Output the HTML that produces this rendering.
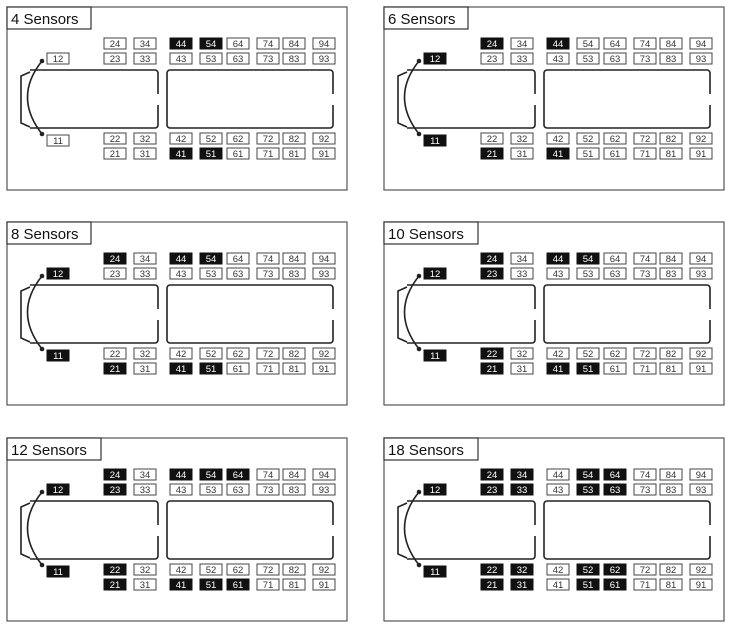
<!DOCTYPE html>
<html><head><meta charset="utf-8"><style>
html,body{margin:0;padding:0;background:#fff;width:730px;height:627px;overflow:hidden}
svg{display:block}
text{font-family:"Liberation Sans",sans-serif}
.f{fill:none;stroke:#555;stroke-width:1.2}
.t{fill:none;stroke:#222;stroke-width:1.6}
.w rect{fill:#fff;stroke:#444;stroke-width:1}
.w text{fill:#333}
.d rect{fill:#111;stroke:#111;stroke-width:1}
.d text{fill:#fff}
.b text{font-size:9.5px;text-anchor:middle}
</style></head><body>
<svg width="730" height="627" viewBox="0 0 730 627">
<defs>
<g id="base">
<rect class="f" x="0" y="0" width="340" height="183"/>
<path class="t" d="M23,63 H148 a3,3 0 0 1 3,3 V87 M151,98 V118 a3,3 0 0 1 -3,3 H23"/>
<path class="t" d="M163,63 H323 a3,3 0 0 1 3,3 V87 M326,98 V118 a3,3 0 0 1 -3,3 H163 a3,3 0 0 1 -3,-3 V66 a3,3 0 0 1 3,-3"/>
<path class="t" d="M23,65 L14,69 V116 L23,120"/>
<path class="t" d="M35,54 Q6,90 35,127" stroke-width="2.6"/>
<circle cx="35" cy="54" r="2.3" fill="#222"/><circle cx="35" cy="127" r="2.3" fill="#222"/>
</g>
</defs>
<!-- Panel 1 -->
<g transform="translate(7,7)" class="b">
<use href="#base"/>
<rect x="0" y="0" width="84" height="22" fill="#fff" stroke="#333" stroke-width="1.2"/><text x="4" y="17" style="font-size:15px;text-anchor:start" fill="#111">4 Sensors</text>
<g class="w"><rect x="40" y="46" width="22" height="11"/><text x="51" y="55">12</text></g>
<g class="w"><rect x="40" y="128" width="22" height="11"/><text x="51" y="137">11</text></g>
<g class="w"><rect x="97" y="31" width="22" height="11"/><text x="108" y="40">24</text></g>
<g class="w"><rect x="127" y="31" width="22" height="11"/><text x="138" y="40">34</text></g>
<g class="d"><rect x="163" y="31" width="22" height="11"/><text x="174" y="40">44</text></g>
<g class="d"><rect x="193" y="31" width="22" height="11"/><text x="204" y="40">54</text></g>
<g class="w"><rect x="220" y="31" width="22" height="11"/><text x="231" y="40">64</text></g>
<g class="w"><rect x="250" y="31" width="22" height="11"/><text x="261" y="40">74</text></g>
<g class="w"><rect x="276" y="31" width="22" height="11"/><text x="287" y="40">84</text></g>
<g class="w"><rect x="306" y="31" width="22" height="11"/><text x="317" y="40">94</text></g>
<g class="w"><rect x="97" y="46" width="22" height="11"/><text x="108" y="55">23</text></g>
<g class="w"><rect x="127" y="46" width="22" height="11"/><text x="138" y="55">33</text></g>
<g class="w"><rect x="163" y="46" width="22" height="11"/><text x="174" y="55">43</text></g>
<g class="w"><rect x="193" y="46" width="22" height="11"/><text x="204" y="55">53</text></g>
<g class="w"><rect x="220" y="46" width="22" height="11"/><text x="231" y="55">63</text></g>
<g class="w"><rect x="250" y="46" width="22" height="11"/><text x="261" y="55">73</text></g>
<g class="w"><rect x="276" y="46" width="22" height="11"/><text x="287" y="55">83</text></g>
<g class="w"><rect x="306" y="46" width="22" height="11"/><text x="317" y="55">93</text></g>
<g class="w"><rect x="97" y="126" width="22" height="11"/><text x="108" y="135">22</text></g>
<g class="w"><rect x="127" y="126" width="22" height="11"/><text x="138" y="135">32</text></g>
<g class="w"><rect x="163" y="126" width="22" height="11"/><text x="174" y="135">42</text></g>
<g class="w"><rect x="193" y="126" width="22" height="11"/><text x="204" y="135">52</text></g>
<g class="w"><rect x="220" y="126" width="22" height="11"/><text x="231" y="135">62</text></g>
<g class="w"><rect x="250" y="126" width="22" height="11"/><text x="261" y="135">72</text></g>
<g class="w"><rect x="276" y="126" width="22" height="11"/><text x="287" y="135">82</text></g>
<g class="w"><rect x="306" y="126" width="22" height="11"/><text x="317" y="135">92</text></g>
<g class="w"><rect x="97" y="141" width="22" height="11"/><text x="108" y="150">21</text></g>
<g class="w"><rect x="127" y="141" width="22" height="11"/><text x="138" y="150">31</text></g>
<g class="d"><rect x="163" y="141" width="22" height="11"/><text x="174" y="150">41</text></g>
<g class="d"><rect x="193" y="141" width="22" height="11"/><text x="204" y="150">51</text></g>
<g class="w"><rect x="220" y="141" width="22" height="11"/><text x="231" y="150">61</text></g>
<g class="w"><rect x="250" y="141" width="22" height="11"/><text x="261" y="150">71</text></g>
<g class="w"><rect x="276" y="141" width="22" height="11"/><text x="287" y="150">81</text></g>
<g class="w"><rect x="306" y="141" width="22" height="11"/><text x="317" y="150">91</text></g>
</g>
<!-- Panel 2 -->
<g transform="translate(384,7)" class="b">
<use href="#base"/>
<rect x="0" y="0" width="84" height="22" fill="#fff" stroke="#333" stroke-width="1.2"/><text x="4" y="17" style="font-size:15px;text-anchor:start" fill="#111">6 Sensors</text>
<g class="d"><rect x="40" y="46" width="22" height="11"/><text x="51" y="55">12</text></g>
<g class="d"><rect x="40" y="128" width="22" height="11"/><text x="51" y="137">11</text></g>
<g class="d"><rect x="97" y="31" width="22" height="11"/><text x="108" y="40">24</text></g>
<g class="w"><rect x="127" y="31" width="22" height="11"/><text x="138" y="40">34</text></g>
<g class="d"><rect x="163" y="31" width="22" height="11"/><text x="174" y="40">44</text></g>
<g class="w"><rect x="193" y="31" width="22" height="11"/><text x="204" y="40">54</text></g>
<g class="w"><rect x="220" y="31" width="22" height="11"/><text x="231" y="40">64</text></g>
<g class="w"><rect x="250" y="31" width="22" height="11"/><text x="261" y="40">74</text></g>
<g class="w"><rect x="276" y="31" width="22" height="11"/><text x="287" y="40">84</text></g>
<g class="w"><rect x="306" y="31" width="22" height="11"/><text x="317" y="40">94</text></g>
<g class="w"><rect x="97" y="46" width="22" height="11"/><text x="108" y="55">23</text></g>
<g class="w"><rect x="127" y="46" width="22" height="11"/><text x="138" y="55">33</text></g>
<g class="w"><rect x="163" y="46" width="22" height="11"/><text x="174" y="55">43</text></g>
<g class="w"><rect x="193" y="46" width="22" height="11"/><text x="204" y="55">53</text></g>
<g class="w"><rect x="220" y="46" width="22" height="11"/><text x="231" y="55">63</text></g>
<g class="w"><rect x="250" y="46" width="22" height="11"/><text x="261" y="55">73</text></g>
<g class="w"><rect x="276" y="46" width="22" height="11"/><text x="287" y="55">83</text></g>
<g class="w"><rect x="306" y="46" width="22" height="11"/><text x="317" y="55">93</text></g>
<g class="w"><rect x="97" y="126" width="22" height="11"/><text x="108" y="135">22</text></g>
<g class="w"><rect x="127" y="126" width="22" height="11"/><text x="138" y="135">32</text></g>
<g class="w"><rect x="163" y="126" width="22" height="11"/><text x="174" y="135">42</text></g>
<g class="w"><rect x="193" y="126" width="22" height="11"/><text x="204" y="135">52</text></g>
<g class="w"><rect x="220" y="126" width="22" height="11"/><text x="231" y="135">62</text></g>
<g class="w"><rect x="250" y="126" width="22" height="11"/><text x="261" y="135">72</text></g>
<g class="w"><rect x="276" y="126" width="22" height="11"/><text x="287" y="135">82</text></g>
<g class="w"><rect x="306" y="126" width="22" height="11"/><text x="317" y="135">92</text></g>
<g class="d"><rect x="97" y="141" width="22" height="11"/><text x="108" y="150">21</text></g>
<g class="w"><rect x="127" y="141" width="22" height="11"/><text x="138" y="150">31</text></g>
<g class="d"><rect x="163" y="141" width="22" height="11"/><text x="174" y="150">41</text></g>
<g class="w"><rect x="193" y="141" width="22" height="11"/><text x="204" y="150">51</text></g>
<g class="w"><rect x="220" y="141" width="22" height="11"/><text x="231" y="150">61</text></g>
<g class="w"><rect x="250" y="141" width="22" height="11"/><text x="261" y="150">71</text></g>
<g class="w"><rect x="276" y="141" width="22" height="11"/><text x="287" y="150">81</text></g>
<g class="w"><rect x="306" y="141" width="22" height="11"/><text x="317" y="150">91</text></g>
</g>
<!-- Panel 3 -->
<g transform="translate(7,222)" class="b">
<use href="#base"/>
<rect x="0" y="0" width="84" height="22" fill="#fff" stroke="#333" stroke-width="1.2"/><text x="4" y="17" style="font-size:15px;text-anchor:start" fill="#111">8 Sensors</text>
<g class="d"><rect x="40" y="46" width="22" height="11"/><text x="51" y="55">12</text></g>
<g class="d"><rect x="40" y="128" width="22" height="11"/><text x="51" y="137">11</text></g>
<g class="d"><rect x="97" y="31" width="22" height="11"/><text x="108" y="40">24</text></g>
<g class="w"><rect x="127" y="31" width="22" height="11"/><text x="138" y="40">34</text></g>
<g class="d"><rect x="163" y="31" width="22" height="11"/><text x="174" y="40">44</text></g>
<g class="d"><rect x="193" y="31" width="22" height="11"/><text x="204" y="40">54</text></g>
<g class="w"><rect x="220" y="31" width="22" height="11"/><text x="231" y="40">64</text></g>
<g class="w"><rect x="250" y="31" width="22" height="11"/><text x="261" y="40">74</text></g>
<g class="w"><rect x="276" y="31" width="22" height="11"/><text x="287" y="40">84</text></g>
<g class="w"><rect x="306" y="31" width="22" height="11"/><text x="317" y="40">94</text></g>
<g class="w"><rect x="97" y="46" width="22" height="11"/><text x="108" y="55">23</text></g>
<g class="w"><rect x="127" y="46" width="22" height="11"/><text x="138" y="55">33</text></g>
<g class="w"><rect x="163" y="46" width="22" height="11"/><text x="174" y="55">43</text></g>
<g class="w"><rect x="193" y="46" width="22" height="11"/><text x="204" y="55">53</text></g>
<g class="w"><rect x="220" y="46" width="22" height="11"/><text x="231" y="55">63</text></g>
<g class="w"><rect x="250" y="46" width="22" height="11"/><text x="261" y="55">73</text></g>
<g class="w"><rect x="276" y="46" width="22" height="11"/><text x="287" y="55">83</text></g>
<g class="w"><rect x="306" y="46" width="22" height="11"/><text x="317" y="55">93</text></g>
<g class="w"><rect x="97" y="126" width="22" height="11"/><text x="108" y="135">22</text></g>
<g class="w"><rect x="127" y="126" width="22" height="11"/><text x="138" y="135">32</text></g>
<g class="w"><rect x="163" y="126" width="22" height="11"/><text x="174" y="135">42</text></g>
<g class="w"><rect x="193" y="126" width="22" height="11"/><text x="204" y="135">52</text></g>
<g class="w"><rect x="220" y="126" width="22" height="11"/><text x="231" y="135">62</text></g>
<g class="w"><rect x="250" y="126" width="22" height="11"/><text x="261" y="135">72</text></g>
<g class="w"><rect x="276" y="126" width="22" height="11"/><text x="287" y="135">82</text></g>
<g class="w"><rect x="306" y="126" width="22" height="11"/><text x="317" y="135">92</text></g>
<g class="d"><rect x="97" y="141" width="22" height="11"/><text x="108" y="150">21</text></g>
<g class="w"><rect x="127" y="141" width="22" height="11"/><text x="138" y="150">31</text></g>
<g class="d"><rect x="163" y="141" width="22" height="11"/><text x="174" y="150">41</text></g>
<g class="d"><rect x="193" y="141" width="22" height="11"/><text x="204" y="150">51</text></g>
<g class="w"><rect x="220" y="141" width="22" height="11"/><text x="231" y="150">61</text></g>
<g class="w"><rect x="250" y="141" width="22" height="11"/><text x="261" y="150">71</text></g>
<g class="w"><rect x="276" y="141" width="22" height="11"/><text x="287" y="150">81</text></g>
<g class="w"><rect x="306" y="141" width="22" height="11"/><text x="317" y="150">91</text></g>
</g>
<!-- Panel 4 -->
<g transform="translate(384,222)" class="b">
<use href="#base"/>
<rect x="0" y="0" width="94" height="22" fill="#fff" stroke="#333" stroke-width="1.2"/><text x="4" y="17" style="font-size:15px;text-anchor:start" fill="#111">10 Sensors</text>
<g class="d"><rect x="40" y="46" width="22" height="11"/><text x="51" y="55">12</text></g>
<g class="d"><rect x="40" y="128" width="22" height="11"/><text x="51" y="137">11</text></g>
<g class="d"><rect x="97" y="31" width="22" height="11"/><text x="108" y="40">24</text></g>
<g class="w"><rect x="127" y="31" width="22" height="11"/><text x="138" y="40">34</text></g>
<g class="d"><rect x="163" y="31" width="22" height="11"/><text x="174" y="40">44</text></g>
<g class="d"><rect x="193" y="31" width="22" height="11"/><text x="204" y="40">54</text></g>
<g class="w"><rect x="220" y="31" width="22" height="11"/><text x="231" y="40">64</text></g>
<g class="w"><rect x="250" y="31" width="22" height="11"/><text x="261" y="40">74</text></g>
<g class="w"><rect x="276" y="31" width="22" height="11"/><text x="287" y="40">84</text></g>
<g class="w"><rect x="306" y="31" width="22" height="11"/><text x="317" y="40">94</text></g>
<g class="d"><rect x="97" y="46" width="22" height="11"/><text x="108" y="55">23</text></g>
<g class="w"><rect x="127" y="46" width="22" height="11"/><text x="138" y="55">33</text></g>
<g class="w"><rect x="163" y="46" width="22" height="11"/><text x="174" y="55">43</text></g>
<g class="w"><rect x="193" y="46" width="22" height="11"/><text x="204" y="55">53</text></g>
<g class="w"><rect x="220" y="46" width="22" height="11"/><text x="231" y="55">63</text></g>
<g class="w"><rect x="250" y="46" width="22" height="11"/><text x="261" y="55">73</text></g>
<g class="w"><rect x="276" y="46" width="22" height="11"/><text x="287" y="55">83</text></g>
<g class="w"><rect x="306" y="46" width="22" height="11"/><text x="317" y="55">93</text></g>
<g class="d"><rect x="97" y="126" width="22" height="11"/><text x="108" y="135">22</text></g>
<g class="w"><rect x="127" y="126" width="22" height="11"/><text x="138" y="135">32</text></g>
<g class="w"><rect x="163" y="126" width="22" height="11"/><text x="174" y="135">42</text></g>
<g class="w"><rect x="193" y="126" width="22" height="11"/><text x="204" y="135">52</text></g>
<g class="w"><rect x="220" y="126" width="22" height="11"/><text x="231" y="135">62</text></g>
<g class="w"><rect x="250" y="126" width="22" height="11"/><text x="261" y="135">72</text></g>
<g class="w"><rect x="276" y="126" width="22" height="11"/><text x="287" y="135">82</text></g>
<g class="w"><rect x="306" y="126" width="22" height="11"/><text x="317" y="135">92</text></g>
<g class="d"><rect x="97" y="141" width="22" height="11"/><text x="108" y="150">21</text></g>
<g class="w"><rect x="127" y="141" width="22" height="11"/><text x="138" y="150">31</text></g>
<g class="d"><rect x="163" y="141" width="22" height="11"/><text x="174" y="150">41</text></g>
<g class="d"><rect x="193" y="141" width="22" height="11"/><text x="204" y="150">51</text></g>
<g class="w"><rect x="220" y="141" width="22" height="11"/><text x="231" y="150">61</text></g>
<g class="w"><rect x="250" y="141" width="22" height="11"/><text x="261" y="150">71</text></g>
<g class="w"><rect x="276" y="141" width="22" height="11"/><text x="287" y="150">81</text></g>
<g class="w"><rect x="306" y="141" width="22" height="11"/><text x="317" y="150">91</text></g>
</g>
<!-- Panel 5 -->
<g transform="translate(7,438)" class="b">
<use href="#base"/>
<rect x="0" y="0" width="94" height="22" fill="#fff" stroke="#333" stroke-width="1.2"/><text x="4" y="17" style="font-size:15px;text-anchor:start" fill="#111">12 Sensors</text>
<g class="d"><rect x="40" y="46" width="22" height="11"/><text x="51" y="55">12</text></g>
<g class="d"><rect x="40" y="128" width="22" height="11"/><text x="51" y="137">11</text></g>
<g class="d"><rect x="97" y="31" width="22" height="11"/><text x="108" y="40">24</text></g>
<g class="w"><rect x="127" y="31" width="22" height="11"/><text x="138" y="40">34</text></g>
<g class="d"><rect x="163" y="31" width="22" height="11"/><text x="174" y="40">44</text></g>
<g class="d"><rect x="193" y="31" width="22" height="11"/><text x="204" y="40">54</text></g>
<g class="d"><rect x="220" y="31" width="22" height="11"/><text x="231" y="40">64</text></g>
<g class="w"><rect x="250" y="31" width="22" height="11"/><text x="261" y="40">74</text></g>
<g class="w"><rect x="276" y="31" width="22" height="11"/><text x="287" y="40">84</text></g>
<g class="w"><rect x="306" y="31" width="22" height="11"/><text x="317" y="40">94</text></g>
<g class="d"><rect x="97" y="46" width="22" height="11"/><text x="108" y="55">23</text></g>
<g class="w"><rect x="127" y="46" width="22" height="11"/><text x="138" y="55">33</text></g>
<g class="w"><rect x="163" y="46" width="22" height="11"/><text x="174" y="55">43</text></g>
<g class="w"><rect x="193" y="46" width="22" height="11"/><text x="204" y="55">53</text></g>
<g class="w"><rect x="220" y="46" width="22" height="11"/><text x="231" y="55">63</text></g>
<g class="w"><rect x="250" y="46" width="22" height="11"/><text x="261" y="55">73</text></g>
<g class="w"><rect x="276" y="46" width="22" height="11"/><text x="287" y="55">83</text></g>
<g class="w"><rect x="306" y="46" width="22" height="11"/><text x="317" y="55">93</text></g>
<g class="d"><rect x="97" y="126" width="22" height="11"/><text x="108" y="135">22</text></g>
<g class="w"><rect x="127" y="126" width="22" height="11"/><text x="138" y="135">32</text></g>
<g class="w"><rect x="163" y="126" width="22" height="11"/><text x="174" y="135">42</text></g>
<g class="w"><rect x="193" y="126" width="22" height="11"/><text x="204" y="135">52</text></g>
<g class="w"><rect x="220" y="126" width="22" height="11"/><text x="231" y="135">62</text></g>
<g class="w"><rect x="250" y="126" width="22" height="11"/><text x="261" y="135">72</text></g>
<g class="w"><rect x="276" y="126" width="22" height="11"/><text x="287" y="135">82</text></g>
<g class="w"><rect x="306" y="126" width="22" height="11"/><text x="317" y="135">92</text></g>
<g class="d"><rect x="97" y="141" width="22" height="11"/><text x="108" y="150">21</text></g>
<g class="w"><rect x="127" y="141" width="22" height="11"/><text x="138" y="150">31</text></g>
<g class="d"><rect x="163" y="141" width="22" height="11"/><text x="174" y="150">41</text></g>
<g class="d"><rect x="193" y="141" width="22" height="11"/><text x="204" y="150">51</text></g>
<g class="d"><rect x="220" y="141" width="22" height="11"/><text x="231" y="150">61</text></g>
<g class="w"><rect x="250" y="141" width="22" height="11"/><text x="261" y="150">71</text></g>
<g class="w"><rect x="276" y="141" width="22" height="11"/><text x="287" y="150">81</text></g>
<g class="w"><rect x="306" y="141" width="22" height="11"/><text x="317" y="150">91</text></g>
</g>
<!-- Panel 6 -->
<g transform="translate(384,438)" class="b">
<use href="#base"/>
<rect x="0" y="0" width="94" height="22" fill="#fff" stroke="#333" stroke-width="1.2"/><text x="4" y="17" style="font-size:15px;text-anchor:start" fill="#111">18 Sensors</text>
<g class="d"><rect x="40" y="46" width="22" height="11"/><text x="51" y="55">12</text></g>
<g class="d"><rect x="40" y="128" width="22" height="11"/><text x="51" y="137">11</text></g>
<g class="d"><rect x="97" y="31" width="22" height="11"/><text x="108" y="40">24</text></g>
<g class="d"><rect x="127" y="31" width="22" height="11"/><text x="138" y="40">34</text></g>
<g class="w"><rect x="163" y="31" width="22" height="11"/><text x="174" y="40">44</text></g>
<g class="d"><rect x="193" y="31" width="22" height="11"/><text x="204" y="40">54</text></g>
<g class="d"><rect x="220" y="31" width="22" height="11"/><text x="231" y="40">64</text></g>
<g class="w"><rect x="250" y="31" width="22" height="11"/><text x="261" y="40">74</text></g>
<g class="w"><rect x="276" y="31" width="22" height="11"/><text x="287" y="40">84</text></g>
<g class="w"><rect x="306" y="31" width="22" height="11"/><text x="317" y="40">94</text></g>
<g class="d"><rect x="97" y="46" width="22" height="11"/><text x="108" y="55">23</text></g>
<g class="d"><rect x="127" y="46" width="22" height="11"/><text x="138" y="55">33</text></g>
<g class="w"><rect x="163" y="46" width="22" height="11"/><text x="174" y="55">43</text></g>
<g class="d"><rect x="193" y="46" width="22" height="11"/><text x="204" y="55">53</text></g>
<g class="d"><rect x="220" y="46" width="22" height="11"/><text x="231" y="55">63</text></g>
<g class="w"><rect x="250" y="46" width="22" height="11"/><text x="261" y="55">73</text></g>
<g class="w"><rect x="276" y="46" width="22" height="11"/><text x="287" y="55">83</text></g>
<g class="w"><rect x="306" y="46" width="22" height="11"/><text x="317" y="55">93</text></g>
<g class="d"><rect x="97" y="126" width="22" height="11"/><text x="108" y="135">22</text></g>
<g class="d"><rect x="127" y="126" width="22" height="11"/><text x="138" y="135">32</text></g>
<g class="w"><rect x="163" y="126" width="22" height="11"/><text x="174" y="135">42</text></g>
<g class="d"><rect x="193" y="126" width="22" height="11"/><text x="204" y="135">52</text></g>
<g class="d"><rect x="220" y="126" width="22" height="11"/><text x="231" y="135">62</text></g>
<g class="w"><rect x="250" y="126" width="22" height="11"/><text x="261" y="135">72</text></g>
<g class="w"><rect x="276" y="126" width="22" height="11"/><text x="287" y="135">82</text></g>
<g class="w"><rect x="306" y="126" width="22" height="11"/><text x="317" y="135">92</text></g>
<g class="d"><rect x="97" y="141" width="22" height="11"/><text x="108" y="150">21</text></g>
<g class="d"><rect x="127" y="141" width="22" height="11"/><text x="138" y="150">31</text></g>
<g class="w"><rect x="163" y="141" width="22" height="11"/><text x="174" y="150">41</text></g>
<g class="d"><rect x="193" y="141" width="22" height="11"/><text x="204" y="150">51</text></g>
<g class="d"><rect x="220" y="141" width="22" height="11"/><text x="231" y="150">61</text></g>
<g class="w"><rect x="250" y="141" width="22" height="11"/><text x="261" y="150">71</text></g>
<g class="w"><rect x="276" y="141" width="22" height="11"/><text x="287" y="150">81</text></g>
<g class="w"><rect x="306" y="141" width="22" height="11"/><text x="317" y="150">91</text></g>
</g>
</svg>
</body></html>
